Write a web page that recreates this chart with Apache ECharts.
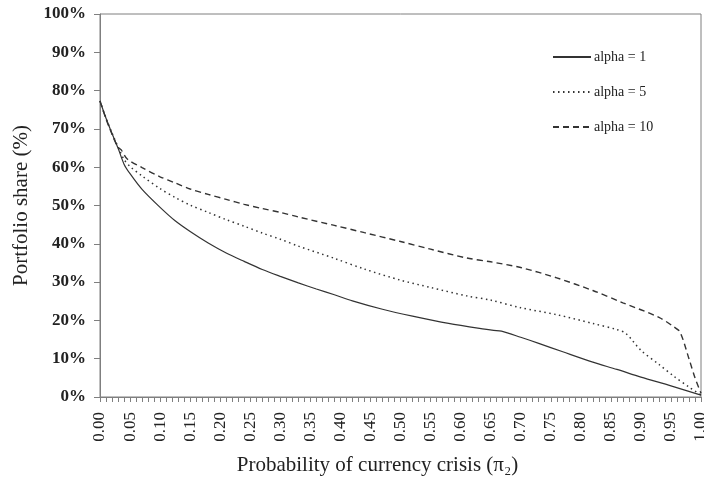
<!DOCTYPE html>
<html>
<head>
<meta charset="utf-8">
<script src="https://cdn.jsdelivr.net/npm/echarts@6/dist/echarts.min.js"></script>
<style>
html,body{margin:0;padding:0;background:#fff;}
#c{width:704px;height:484px;}
</style>
</head>
<body>
<div id="c"></div>
<script>
// Data
var seriesNames = ['alpha = 1', 'alpha = 5', 'alpha = 10'];

var alpha1X = [0, 0.01, 0.02, 0.03, 0.04, 0.05, 0.07, 0.10, 0.125, 0.15, 0.18, 0.21, 0.24, 0.27, 0.30, 0.33, 0.36, 0.39, 0.42, 0.47, 0.52, 0.58, 0.64, 0.655, 0.668, 0.70, 0.73, 0.77, 0.82, 0.86, 0.90, 0.95, 1.0];
var alpha1Y = [77.3, 72.8, 68.8, 65.0, 60.8, 58.3, 54.2, 49.5, 46.0, 43.2, 40.2, 37.6, 35.4, 33.3, 31.5, 29.8, 28.2, 26.7, 25.1, 22.9, 21.1, 19.2, 17.7, 17.4, 17.2, 15.6, 14.0, 11.8, 9.1, 7.2, 5.2, 2.9, 0.5];

var alpha5X = [0, 0.01, 0.02, 0.03, 0.04, 0.05, 0.07, 0.10, 0.125, 0.15, 0.18, 0.21, 0.24, 0.27, 0.30, 0.33, 0.39, 0.44, 0.50, 0.55, 0.61, 0.65, 0.70, 0.76, 0.82, 0.86, 0.875, 0.90, 0.93, 0.955, 0.98, 1.0];
var alpha5Y = [77.3, 72.8, 68.9, 65.3, 62.0, 60.2, 57.7, 54.4, 52.1, 50.1, 48.2, 46.3, 44.6, 42.8, 41.2, 39.4, 36.2, 33.4, 30.5, 28.6, 26.4, 25.3, 23.3, 21.5, 19.2, 17.6, 16.6, 12.2, 8.5, 5.4, 2.6, 0.5];

var alpha10X = [0, 0.01, 0.02, 0.03, 0.035, 0.045, 0.07, 0.10, 0.125, 0.15, 0.18, 0.21, 0.24, 0.27, 0.30, 0.33, 0.39, 0.44, 0.50, 0.55, 0.61, 0.65, 0.70, 0.76, 0.82, 0.87, 0.93, 0.955, 0.965, 0.98, 0.99, 1.0];
var alpha10Y = [77.3, 72.6, 68.6, 65.2, 64.6, 62.2, 59.9, 57.5, 55.9, 54.3, 52.9, 51.6, 50.3, 49.2, 48.2, 47.0, 44.8, 42.9, 40.6, 38.6, 36.3, 35.3, 33.8, 31.1, 27.8, 24.6, 20.8, 18.3, 17.0, 10.0, 5.0, 1.0];

var yTicks = [0, 10, 20, 30, 40, 50, 60, 70, 80, 90, 100];

function pairs(xs, ys) {
  return xs.map(function (x, i) { return [x, ys[i]]; });
}

var serif = '"Liberation Serif", "Times New Roman", serif';
var axisGray = '#7f7f7f';
var lineColor = '#333333';

var chart = echarts.init(document.getElementById('c'), null, {renderer: 'canvas'});
chart.setOption({
  animation: false,
  backgroundColor: '#ffffff',
  grid: {
    left: 100, right: 3, top: 14, bottom: 87,
    outerBoundsMode: 'none',
    containLabel: false,
    show: true, borderColor: axisGray, borderWidth: 1, backgroundColor: 'transparent'
  },
  legend: {
    orient: 'vertical',
    left: 547, top: 45,
    itemWidth: 38, itemHeight: 14, itemGap: 21,
    itemStyle: {opacity: 0, borderWidth: 0},
    textStyle: {fontFamily: serif, fontSize: 14, color: '#222', padding: [0, 0, 0, -2]},
    data: seriesNames
  },
  xAxis: {
    type: 'value',
    min: 0, max: 1, interval: 0.01,
    name: 'Probability of currency crisis (\u03C0\u2082)',
    nameLocation: 'middle', nameGap: 58,
    nameTextStyle: {fontFamily: serif, fontSize: 21, color: '#222', padding: [0, 46, 0, 0]},
    axisLine: {show: true, lineStyle: {color: axisGray, width: 1}},
    axisTick: {show: true, length: 5, lineStyle: {color: axisGray}},
    splitLine: {show: false},
    axisLabel: {
      rotate: 90, margin: 15, showMaxLabel: true, showMinLabel: true,
      fontFamily: serif, fontSize: 17, color: '#222',
      formatter: function (v) {
        var k = Math.round(v * 100);
        return (k % 5 === 0) ? (k / 100).toFixed(2) : '';
      }
    }
  },
  yAxis: {
    type: 'value',
    min: yTicks[0], max: yTicks[yTicks.length - 1], interval: 10,
    name: 'Portfolio share (%)',
    nameLocation: 'middle', nameGap: 68,
    nameTextStyle: {fontFamily: serif, fontSize: 21, color: '#222'},
    axisLine: {show: true, lineStyle: {color: axisGray, width: 1}},
    axisTick: {show: true, length: 6, lineStyle: {color: axisGray}},
    splitLine: {show: false},
    axisLabel: {
      margin: 14, fontFamily: serif, fontSize: 17, fontWeight: 'bold', color: '#222',
      formatter: '{value}%'
    }
  },
  series: [
    {
      name: seriesNames[0], type: 'line', showSymbol: false, symbol: 'none',
      smooth: 0.3,
      lineStyle: {color: lineColor, width: 1.2, type: 'solid'},
      itemStyle: {color: lineColor},
      data: pairs(alpha1X, alpha1Y)
    },
    {
      name: seriesNames[1], type: 'line', showSymbol: false, symbol: 'none',
      smooth: 0.3,
      lineStyle: {color: lineColor, width: 1.5, type: [1.5, 3.5]},
      itemStyle: {color: lineColor},
      data: pairs(alpha5X, alpha5Y)
    },
    {
      name: seriesNames[2], type: 'line', showSymbol: false, symbol: 'none',
      smooth: 0.3,
      lineStyle: {color: lineColor, width: 1.4, type: [6, 4]},
      itemStyle: {color: lineColor},
      data: pairs(alpha10X, alpha10Y)
    }
  ]
});
</script>
</body>
</html>
